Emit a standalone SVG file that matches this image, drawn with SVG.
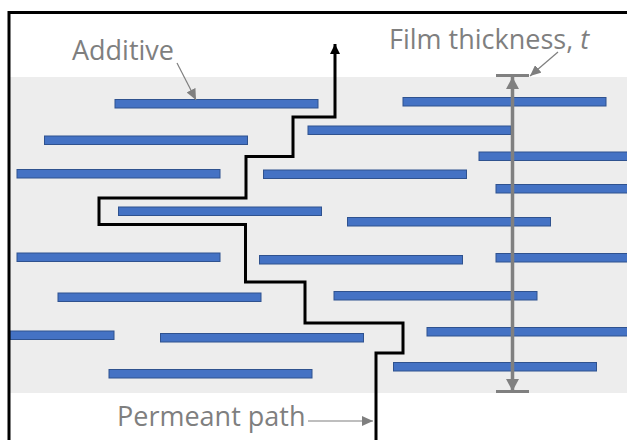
<svg xmlns="http://www.w3.org/2000/svg" width="627" height="440" viewBox="0 0 627 440">
  <style>
    .bar { fill: #4472C4; stroke: #2F528F; stroke-width: 1; }
    .lbl { font-family: "Open Sans", "Liberation Sans", sans-serif; font-size: 27px; fill: #7F7F7F; }
    .thin { stroke: #7F7F7F; stroke-width: 1.2; fill: none; }
    .path { stroke: #000; stroke-width: 3; fill: none; }
  </style>
  <defs>
    <marker id="thinArrow" markerUnits="userSpaceOnUse" markerWidth="12" markerHeight="10" viewBox="0 0 12 10" refX="11" refY="5" orient="auto">
      <path d="M0,0 L11,5 L0,10 Z" fill="#7F7F7F"/>
    </marker>
    <marker id="blackArrow" markerUnits="userSpaceOnUse" markerWidth="11" markerHeight="10" viewBox="0 0 11 10" refX="10" refY="5" orient="auto">
      <path d="M0,0 L10,5 L0,10 Z" fill="#000"/>
    </marker>
    <marker id="grayArrow" markerUnits="userSpaceOnUse" markerWidth="13" markerHeight="13" viewBox="0 0 13 13" refX="12" refY="6.5" orient="auto">
      <path d="M0,0 L12,6.5 L0,13 Z" fill="#808080"/>
    </marker>
  </defs>

  <rect x="0" y="0" width="627" height="440" fill="#FFFFFF"/>

  <g id="film">
    <rect x="10" y="77" width="617" height="316" fill="#EDEDED"/>
  </g>

  <g id="additives">
    <rect class="bar" x="115" y="99.5" width="203" height="8.5"/>
    <rect class="bar" x="403" y="97.5" width="203" height="8.5"/>
    <rect class="bar" x="308" y="126" width="203" height="8.5"/>
    <rect class="bar" x="44.5" y="136" width="203" height="8.5"/>
    <rect class="bar" x="479" y="152" width="203" height="8.5"/>
    <rect class="bar" x="17" y="169.5" width="203" height="8.5"/>
    <rect class="bar" x="263.5" y="170" width="203" height="8.5"/>
    <rect class="bar" x="496" y="184.5" width="203" height="8.5"/>
    <rect class="bar" x="118.5" y="207" width="203" height="8.5"/>
    <rect class="bar" x="347.5" y="217.5" width="203" height="8.5"/>
    <rect class="bar" x="17" y="253" width="203" height="8.5"/>
    <rect class="bar" x="259.5" y="255.5" width="203" height="8.5"/>
    <rect class="bar" x="496" y="253.5" width="203" height="8.5"/>
    <rect class="bar" x="58" y="293" width="203" height="8.5"/>
    <rect class="bar" x="334" y="291.5" width="203" height="8.5"/>
    <rect class="bar" x="10" y="331" width="104" height="8.5"/>
    <rect class="bar" x="160.5" y="333.5" width="203" height="8.5"/>
    <rect class="bar" x="427" y="327.5" width="203" height="8.5"/>
    <rect class="bar" x="109" y="369.5" width="203" height="8.5"/>
    <rect class="bar" x="393.5" y="362.5" width="203" height="8.5"/>
  </g>

  <g id="border">
    <rect x="9" y="12.5" width="700" height="500" fill="none" stroke="#000" stroke-width="3"/>
  </g>

  <g id="connectors">
    <polyline class="path" points="376,445 376,353 403,353 403,323 305,323 305,282 245.5,282 245.5,224.5 99,224.5 99,198 246,198 246,156.5 293,156.5 293,117 335,117 335,44" marker-end="url(#blackArrow)"/>
    <line x1="512.5" y1="233" x2="512.5" y2="77" stroke="#808080" stroke-width="3.5" marker-end="url(#grayArrow)"/>
    <line x1="512.5" y1="233" x2="512.5" y2="391" stroke="#808080" stroke-width="3.5" marker-end="url(#grayArrow)"/>
    <line x1="496" y1="75.5" x2="529" y2="75.5" stroke="#808080" stroke-width="3"/>
    <line x1="496" y1="391.5" x2="529" y2="391.5" stroke="#808080" stroke-width="3"/>
    <line class="thin" x1="177" y1="63" x2="196" y2="100" marker-end="url(#thinArrow)"/>
    <line class="thin" x1="558" y1="52" x2="530" y2="76" marker-end="url(#thinArrow)"/>
    <line class="thin" x1="308" y1="421" x2="373" y2="421" marker-end="url(#thinArrow)"/>
  </g>

  <g id="label-additive">
    <text class="lbl" x="72" y="60">Additive</text>
  </g>
  <g id="label-thickness">
    <text class="lbl" x="389" y="49">Film thickness, <tspan font-style="italic">t</tspan></text>
  </g>
  <g id="label-path">
    <text class="lbl" x="117" y="426">Permeant path</text>
  </g>
</svg>
